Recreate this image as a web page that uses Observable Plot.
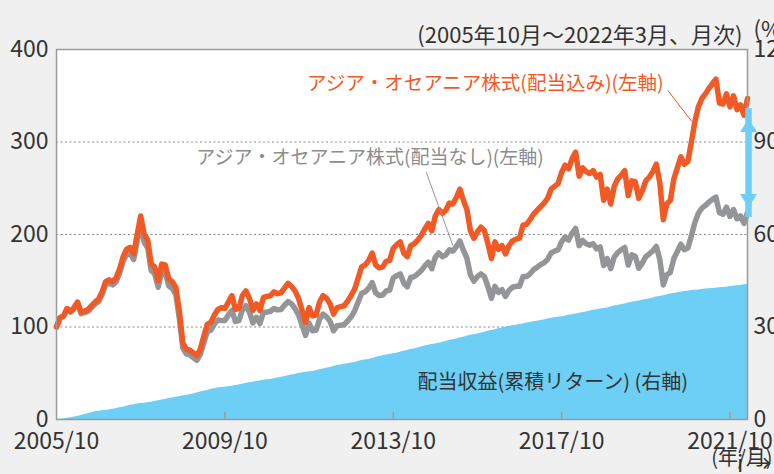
<!DOCTYPE html>
<html><head><meta charset="utf-8">
<script src="https://cdn.jsdelivr.net/npm/d3@7"></script>
<script src="https://cdn.jsdelivr.net/npm/@observablehq/plot@0.6"></script>
<style>
html,body{margin:0;padding:0;background:#f0f0f0;}
#chart{width:774px;height:474px;overflow:hidden;}
</style></head><body><div id="chart"></div>
<script>
// Period: 2005/10 – 2022/03, monthly
const startYear = 2005, startMonth = 10;

// アジア・オセアニア株式(配当込み) – left axis
const withDiv = [
100,110,112,120,117,121,127,116,117,119,
123,127,130,138,149,151,149,153,163,176,
184,186,179,200,220,200,194,168,165,150,
168,167,152,149,143,118,83,76,75,72,
69,76,90,103,105,113,119,121,120,127,
134,119,120,134,139,131,118,125,118,132,
133,134,138,136,137,142,147,144,139,131,
118,105,121,112,113,127,134,131,125,114,
121,122,123,128,134,141,153,165,167,172,
180,167,164,165,171,172,185,189,192,180,
176,188,190,194,199,206,212,204,220,227,
223,226,234,233,240,249,237,227,204,196,
203,208,204,190,174,192,184,188,179,188,
193,195,196,210,211,216,222,226,230,234,
239,249,252,255,267,275,271,282,289,263,
272,268,266,269,262,265,237,249,233,252,
260,264,269,242,258,257,239,247,258,262,
268,276,256,216,233,237,260,272,284,276,
279,300,322,338,347,352,358,363,368,342,
341,352,338,350,335,340,329,347];

// アジア・オセアニア株式(配当なし) – left axis
const noDiv = [
100,110,111.5,119,116,120,126,114.5,115.5,117,
121,125,127.5,135,146,147.5,145.5,149,158.5,171,
178.5,180,173,193,211,191.5,185.5,161,157.5,143,
160,159,144.5,141.5,135.5,110,77.5,71,70,67,
64,70.5,83,95,96.5,103,107.5,107,107,113,
118,106,107,118.5,123,116,104.5,110.5,104,116,
116,117,120,118.5,119,123.5,127.5,125,120,113,
102,91,104,96,96.5,108.5,114,111,106,96,
101.5,102,102.5,106.5,111,117.5,127,136.5,138,142,
148,137,134,134.5,139,140,153,155.5,157.5,147.5,
143.5,153.5,154.5,157.5,161,166,170,163,175.5,180,
176,178,183.5,182,187,193,183,174.5,156.5,149.5,
154.5,157.5,154.5,143.5,131,144,137.5,140.5,133,139.5,
143,144,144,154.5,154.5,157.5,162,164.5,167.5,169.5,
173,180,182,183.5,192,197,194,201.5,206.5,188,
193.5,190,188.5,190,184.5,186.5,166.5,174,163,175.5,
180.5,183.5,186,167,178,176.5,163.5,169,176,179,
182.5,187,173,145.5,156.5,159,174,181.5,189.5,183.5,
185.5,198.5,213,223,228.5,231.5,235,238,240.5,223.5,
222,229.5,219.5,227,217,220,212,224];

// 配当収益(累積リターン) – right axis, %
const divCum = [
0,0.1,0.2,0.4,0.6,0.8,1.0,1.3,1.6,1.9,2.2,2.5,
2.7,2.8,2.9,3.1,3.3,3.5,3.8,4.0,4.3,4.6,4.8,5.0,
5.2,5.3,5.4,5.6,5.8,6.1,6.3,6.5,6.8,7.0,7.2,7.4,
7.6,7.8,8.0,8.3,8.6,8.9,9.2,9.4,9.7,10.0,10.2,10.4,
10.5,10.6,10.8,11.0,11.2,11.4,11.7,11.9,12.1,12.3,12.5,12.7,
12.9,13.0,13.2,13.5,13.7,13.9,14.2,14.4,14.6,14.9,15.1,15.3,
15.4,15.6,15.8,16.1,16.4,16.6,16.9,17.2,17.5,17.7,17.9,18.1,
18.3,18.5,18.8,19.1,19.3,19.5,19.8,20.1,20.4,20.7,20.9,21.1,
21.3,21.5,21.8,22.1,22.4,22.7,22.9,23.2,23.5,23.8,24.1,24.3,
24.5,24.7,25.0,25.3,25.6,25.9,26.1,26.4,26.7,27.0,27.3,27.5,
27.7,28.0,28.3,28.6,28.9,29.1,29.4,29.7,30.0,30.2,30.4,30.6,
30.8,31.0,31.3,31.5,31.7,31.9,32.1,32.3,32.6,32.8,33.0,33.2,
33.3,33.5,33.8,34.0,34.2,34.4,34.7,34.9,35.1,35.4,35.6,35.8,
36.0,36.2,36.5,36.8,37.0,37.2,37.5,37.8,38.0,38.2,38.4,38.7,
38.9,39.1,39.4,39.7,39.9,40.1,40.4,40.7,40.9,41.1,41.3,41.5,
41.6,41.8,41.9,42.0,42.2,42.3,42.4,42.5,42.6,42.7,42.8,42.9,
43.1,43.2,43.4,43.5,43.7,43.8];

const xTickLabels = ["2005/10","2009/10","2013/10","2017/10","2021/10"];
const leftTicks = [0,100,200,300,400];
const rightTicks = [0,30,60,90,120];
const gridTicks = [100,200,300];

const title = "(2005年10月～2022年3月、月次)";
const rightUnit = "(%)";
const xUnit = "(年/月)";
const labelWith = "アジア・オセアニア株式(配当込み)(左軸)";
const labelNo = "アジア・オセアニア株式(配当なし)(左軸)";
const labelDiv = "配当収益(累積リターン) (右軸)";

// ---- build
const k = 400 / 120; // right axis -> left axis units
const monthLabel = i => {
  const t = (startMonth - 1) + i;
  const y = startYear + Math.floor(t / 12), m = (t % 12) + 1;
  return `${y}/${m}`;
};
const rows = withDiv.map((v, i) => ({i, date: monthLabel(i), withDiv: v, noDiv: noDiv[i], div: divCum[i]}));
const labelToIdx = s => { const [y, m] = s.split("/").map(Number); return (y - startYear) * 12 + (m - startMonth); };
const xTickIdx = xTickLabels.map(labelToIdx);
const last = rows.length - 1;

const BLUE = "#6dcff6", ORANGE = "#f15a24", GRAY = "#939598";
const upHead = {draw(c){ c.moveTo(0,0); c.lineTo(8.5,13.5); c.lineTo(-8.5,13.5); c.closePath(); }};
const downHead = {draw(c){ c.moveTo(0,0); c.lineTo(8.5,-13.5); c.lineTo(-8.5,-13.5); c.closePath(); }};

const chart = Plot.plot({
  width: 774, height: 474,
  marginTop: 49, marginBottom: 55, marginLeft: 56, marginRight: 27,
  style: {background: "transparent", fontFamily: "'Noto Sans CJK JP', 'Noto Sans', sans-serif", fontSize: "23px", color: "#333", overflow: "hidden"},
  x: {type: "linear", domain: [0, last]},
  y: {domain: [0, 400]},
  marks: [
    Plot.frame({fill: "white", stroke: null}),
    Plot.ruleY(gridTicks, {stroke: "#8a8a8a", strokeDasharray: "2,2.5", strokeWidth: 1}),
    Plot.areaY(rows, {x: "i", y: d => d.div * k, fill: BLUE, curve: "linear"}),
    Plot.line(rows, {x: "i", y: "noDiv", stroke: GRAY, strokeWidth: 5.5, strokeLinejoin: "round"}),
    Plot.line(rows, {x: "i", y: "withDiv", stroke: ORANGE, strokeWidth: 5.5, strokeLinejoin: "round"}),
    Plot.frame({stroke: "#9a9a9a", strokeWidth: 1.5}),
    Plot.ruleX(xTickIdx.slice(1), {y1: 0, y2: 7.5, stroke: "#9a9a9a", strokeWidth: 1.5}),
    Plot.axisX(xTickIdx, {tickSize: 0, tickPadding: 13, tickFormat: d => xTickLabels[xTickIdx.indexOf(d)], fill: "#333"}),
    Plot.axisY(leftTicks, {tickSize: 0, tickPadding: 8, fill: "#333"}),
    Plot.axisY(rightTicks.map(v => v * k), {anchor: "right", tickSize: 0, tickPadding: 6, tickFormat: d => Math.round(d / k), fill: "#333"}),
    // leader lines
    Plot.link([0], {x1: 174.3, y1: 355.7, x2: 181.1, y2: 322.2, stroke: ORANGE, strokeWidth: 1}),
    Plot.link([0], {x1: 105.4, y1: 267.4, x2: 113.0, y2: 188.1, stroke: GRAY, strokeWidth: 1}),
    // series labels
    Plot.text([labelWith], {x: 173.1, y: 363.2, text: d => d, textAnchor: "end", fill: ORANGE, fontSize: 19.5}),
    Plot.text([labelNo], {x: 138.9, y: 283, text: d => d, textAnchor: "end", fill: "#8c8c8c", fontSize: 19}),
    Plot.text([labelDiv], {x: 102.9, y: 40.3, text: d => d, textAnchor: "start", fill: "#333", fontSize: 20}),
    // double arrow (gap between the two series at the end)
    Plot.ruleX([last], {y1: 229.2, y2: 325.4, stroke: BLUE, strokeWidth: 6.5, insetTop: 10, insetBottom: 10, dx: 1}),
    Plot.dot([325.4], {x: last, y: d => d, symbol: upHead, r: 5, fill: BLUE, stroke: null, dx: 1}),
    Plot.dot([229.2], {x: last, y: d => d, symbol: downHead, r: 5, fill: BLUE, stroke: null, dx: 1}),
    // titles / units
    Plot.text([title], {frameAnchor: "top-right", text: d => d, textAnchor: "end", dx: -5, dy: -22, fill: "#333", fontSize: 22}),
    Plot.text([rightUnit], {frameAnchor: "top-right", text: d => d, textAnchor: "start", dx: 6, dy: -28, fill: "#333", fontSize: 22}),
    Plot.text([xUnit], {frameAnchor: "bottom-right", text: d => d, textAnchor: "end", dx: 25, dy: 45, fill: "#333", fontSize: 20})
  ]
});
document.getElementById("chart").appendChild(chart);
</script>
</body></html>
